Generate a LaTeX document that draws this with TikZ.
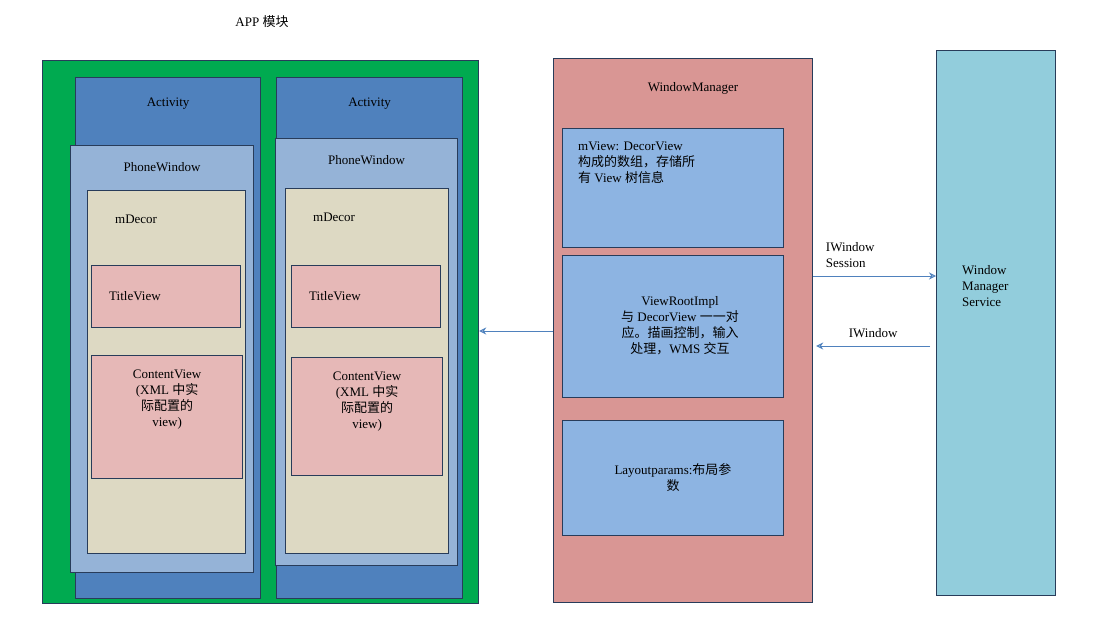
\documentclass[tikz,border=0pt]{standalone}
\usepackage{fontspec}
\setmainfont{Liberation Serif}
\newfontfamily\cjk{Noto Sans CJK SC}
\usetikzlibrary{arrows.meta}
\definecolor{appgreen}{RGB}{0,170,80}
\definecolor{actblue}{RGB}{79,129,189}
\definecolor{winblue}{RGB}{149,179,215}
\definecolor{decorbg}{RGB}{221,217,195}
\definecolor{viewpink}{RGB}{230,184,183}
\definecolor{wmred}{RGB}{217,150,148}
\definecolor{fieldblue}{RGB}{141,180,226}
\definecolor{wmsblue}{RGB}{146,205,220}
\definecolor{edge}{RGB}{40,60,90}
\tikzset{
  box/.style={draw=edge,line width=1.2pt,anchor=north west,inner sep=0pt},
  lbl/.style={font=\fontsize{13}{16}\selectfont,align=left,inner sep=0pt},
  clbl/.style={font=\fontsize{13}{16}\selectfont,align=center,inner sep=0pt},
  link/.style={-{Stealth[length=7pt,width=7pt,open]},draw=actblue,line width=1pt}
}
\newcommand{\bx}[6]{\node[box,fill=#6,minimum width=#4-#2,minimum height=#5-#3] (#1) at (#2,#3) {};}
\begin{document}
\begin{tikzpicture}[x=1pt,y=-1pt]
  \useasboundingbox (0,0) rectangle (1100,624);
  \node[clbl] (title) at (262,22) {APP {\cjk 模块}};
  % app module
  \bx{app}{42}{60}{478}{603}{appgreen}
  \foreach \n/\ax/\bxx/\px/\py/\pr/\pb/\dx/\dy/\dr/\tvx/\tvr/\cvy/\cvb in
     {1/75/260/70/145/253/572/87/190/245/91/240/355/478,
      2/276/462/275/138/457/565/285/188/448/291/440/357/475}{
    \bx{act\n}{\ax}{77}{\bxx}{598}{actblue}
    \bx{win\n}{\px}{\py}{\pr}{\pb}{winblue}
    \bx{decor\n}{\dx}{\dy}{\dr}{553}{decorbg}
    \bx{tv\n}{\tvx}{265}{\tvr}{327}{viewpink}
    \bx{cv\n}{\tvx}{\cvy}{\tvr+2}{\cvb}{viewpink}
    \node[clbl] (actl\n) at ([yshift=-27pt]act\n.north) {Activity};
    \node[clbl] (winl\n) at ([yshift=-22pt]win\n.north) {PhoneWindow};
    \node[lbl,anchor=west] (decl\n) at (\dx+28,\dy+29) {mDecor};
    \node[lbl,anchor=west] (tvl\n) at (\tvx+18,296) {TitleView};
    \node[clbl,anchor=north] (cvl\n) at ([yshift=-15pt]cv\n.north) {ContentView\\(XML {\cjk 中实}\\{\cjk 际配置的}\\view)};
  }
  % window manager
  \bx{wm}{553}{58}{812}{602}{wmred}
  \node[clbl] (wml) at (693,88) {WindowManager};
  \bx{mview}{562}{128}{783}{247}{fieldblue}
  \node[lbl,anchor=north west] (mviewl) at (578,142) {mView: DecorView\\{\cjk 构成的数组，存储所}\\{\cjk 有} View {\cjk 树信息}};
  \bx{vri}{562}{255}{783}{397}{fieldblue}
  \node[clbl] (vril) at (680,326) {ViewRootImpl\\{\cjk 与} DecorView {\cjk 一一对}\\{\cjk 应。描画控制，输入}\\{\cjk 处理，}WMS {\cjk 交互}};
  \bx{lp}{562}{420}{783}{535}{fieldblue}
  \node[clbl] (lpl) at (673,478) {Layoutparams:{\cjk 布局参}\\{\cjk 数}};
  % service
  \bx{wms}{936}{50}{1055}{595}{wmsblue}
  \node[lbl,anchor=north west] (wmsl) at (962,265) {Window\\Manager\\Service};
  % links
  \draw[link] (wm.west |- 0,331) -- (app.east |- 0,331);
  \draw[link] (wm.east |- 0,276) -- node[lbl,above=8pt,pos=0.1,anchor=south west] (sess) {IWindow\\Session} (wms.west |- 0,276);
  \draw[link] ([xshift=-6pt]wms.west |- 0,346) -- node[lbl,above=8pt] (iwin) {IWindow} ([xshift=3pt]wm.east |- 0,346);
\end{tikzpicture}
\end{document}
